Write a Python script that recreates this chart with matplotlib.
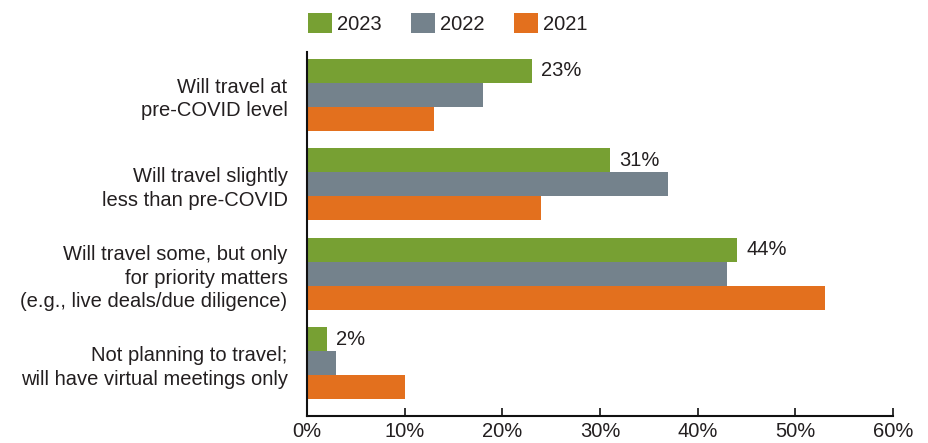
import matplotlib
matplotlib.use("Agg")
import matplotlib.pyplot as plt
import numpy as np
from matplotlib.patches import Patch

categories = [
    "Will travel at\npre-COVID level",
    "Will travel slightly\nless than pre-COVID",
    "Will travel some, but only\nfor priority matters\n(e.g., live deals/due diligence)",
    "Not planning to travel;\nwill have virtual meetings only",
]
years = ["2023", "2022", "2021"]
v2023 = [23, 31, 44, 2]
v2022 = [18, 37, 43, 3]
v2021 = [13, 24, 53, 10]
xticks = [0, 10, 20, 30, 40, 50, 60]

colors = ["#77a033", "#74828c", "#e3701e"]
txt = "#231f20"
fs = 14.5

plt.rcParams["font.family"] = ["Liberation Sans", "DejaVu Sans"]

fig = plt.figure(figsize=(9.29, 4.43), dpi=100)
ax = fig.add_axes([0.3305, 0.061, 0.9612 - 0.3305, 0.8826 - 0.061])

y = np.arange(len(categories))
h = 0.268
series = [v2023, v2022, v2021]
for i, (vals, c) in enumerate(zip(series, colors)):
    ax.barh(y + (i - 1) * h, vals, height=h, color=c, linewidth=0)

for yi, v in zip(y, v2023):
    ax.text(v + 1.0, yi - h, f"{v}%", va="center", ha="left", fontsize=fs, color=txt)

ax.set_ylim(3.59, -0.48)
ax.set_xlim(0, 60)
ax.set_yticks(y)
ax.set_yticklabels(categories, fontsize=fs, color=txt, linespacing=1.3)
ax.tick_params(axis="y", length=0, pad=14)
ax.set_xticks(xticks)
ax.set_xticklabels([f"{t}%" for t in xticks], fontsize=fs, color=txt)
ax.tick_params(axis="x", length=6, width=1.2, direction="in", pad=4, color="#111111")
for s in ["top", "right"]:
    ax.spines[s].set_visible(False)
ax.spines["left"].set_linewidth(1.5)
ax.spines["bottom"].set_linewidth(1.5)
ax.spines["left"].set_color("#111111")
ax.spines["bottom"].set_color("#111111")

handles = [Patch(facecolor=c, edgecolor="none", label=l) for c, l in zip(colors, years)]
fig.legend(handles=handles, loc="upper left", bbox_to_anchor=(0.312, 1.012), ncol=3,
           frameon=False, fontsize=fs, handlelength=1.2, handleheight=1.2,
           handletextpad=0.25, columnspacing=1.45, labelcolor=txt, borderaxespad=0.5)

fig.savefig("out.png", dpi=100)
